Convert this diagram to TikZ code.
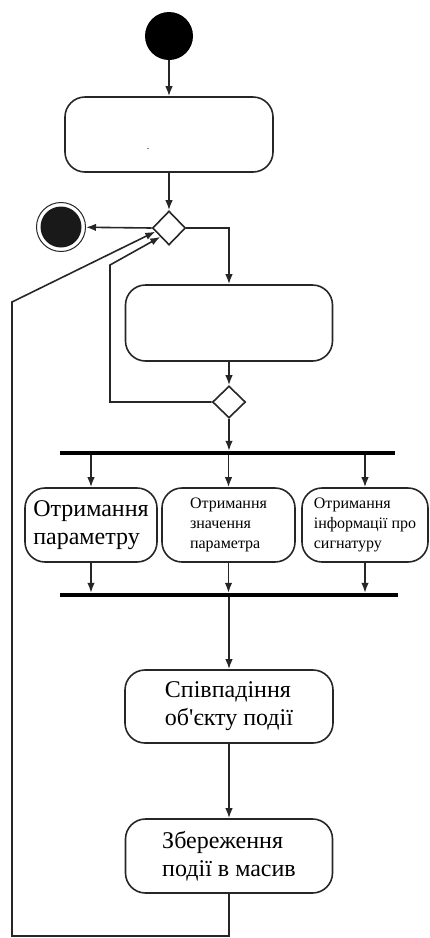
\documentclass[tikz,border=0pt]{standalone}
\usepackage{fontspec}
\setmainfont{Liberation Serif}
\usetikzlibrary{arrows.meta,shapes.geometric}
\begin{document}
\begin{tikzpicture}[x=1pt,y=-1pt,
  flow/.style={line width=1.6pt, draw=black!85},
  arr/.style={flow, -{Latex[length=10pt,width=7.5pt]}},
  act/.style={rectangle, draw=black!85, line width=1.6pt, rounded corners=20pt,
              inner sep=0pt, align=left},
  bigtxt/.style={font=\fontsize{24}{28}\selectfont},
  smalltxt/.style={font=\fontsize{16}{20}\selectfont},
  decision/.style={diamond, draw=black!85, line width=1.6pt, fill=white,
                   minimum width=33pt, minimum height=34pt, inner sep=0pt},
  syncbar/.style={rectangle, fill=black, inner sep=0pt, minimum height=4pt},
]
\useasboundingbox (0,0) rectangle (429,938);

% initial and final states
\node[circle, fill=black, minimum size=48pt, inner sep=0pt] (start) at (169,36) {};
\node[circle, draw=black!85, line width=1pt, minimum size=49pt, inner sep=0pt] (stop) at (61,227) {};
\node[circle, fill=black!90, minimum size=41pt, inner sep=0pt] (stopcore) at (61,227) {};

% activities
\node[act, minimum width=208pt, minimum height=75pt] (init) at (169,134.5) {};
\node[font=\fontsize{10}{12}\selectfont, inner sep=0pt] (initdot) at (148,149) {.};
\node[decision] (d1) at (169,228) {};
\node[act, minimum width=207pt, minimum height=76pt] (loopact) at (229,323) {};
\node[decision, minimum height=32pt] (d2) at (229,402) {};

\node[syncbar, minimum width=335pt] (fork) at (227.5,453) {};
\node[act, bigtxt, minimum width=132pt, minimum height=74pt] (getp) at (91,525)
  {Отримання\\параметру};
\node[act, smalltxt, minimum width=133pt, minimum height=74pt] (getv) at (228.5,525)
  {Отримання\\значення\\параметра};
\node[act, smalltxt, minimum width=126pt, minimum height=74pt] (gets) at (365,525)
  {Отримання\\інформації про\\сигнатуру};
\node[syncbar, minimum width=338pt] (join) at (229,595) {};

\node[act, bigtxt, minimum width=208pt, minimum height=73pt] (match) at (229,706.5)
  {Співпадіння\\об\textquotesingle єкту події};
\node[act, bigtxt, minimum width=207pt, minimum height=74pt] (store) at (229,856)
  {Збереження\\події в масив};

% loop-back route points
\coordinate (innerturn) at (110,265);
\coordinate (outerlow) at (12,936);
\coordinate (outerturn) at (12,302);

% control flow
\draw[arr] (start) -- (init);
\draw[arr] (init) -- (d1);
\draw[arr] (d1.west) -- (stop);
\draw[arr] (d1.east) -| (loopact.north);
\draw[arr] (loopact) -- (d2);
\draw[arr] (d2.west) -| (innerturn) -- (d1.south west);
\draw[arr] (d2.south) -- (d2.south |- fork.north);

\draw[arr] (fork.south -| getp) -- (getp.north);
\draw[arr] (fork.south -| getv) -- (getv.north);
\draw[arr] (fork.south -| gets) -- (gets.north);
\draw[arr] (getp.south) -- (getp.south |- join.north);
\draw[arr] (getv.south) -- (getv.south |- join.north);
\draw[arr] (gets.south) -- (gets.south |- join.north);

\draw[arr] (join.south -| match) -- (match.north);
\draw[arr] (match) -- (store);
\draw[arr] (store.south) |- (outerlow) -- (outerturn) -- (d1.195);
\end{tikzpicture}
\end{document}
